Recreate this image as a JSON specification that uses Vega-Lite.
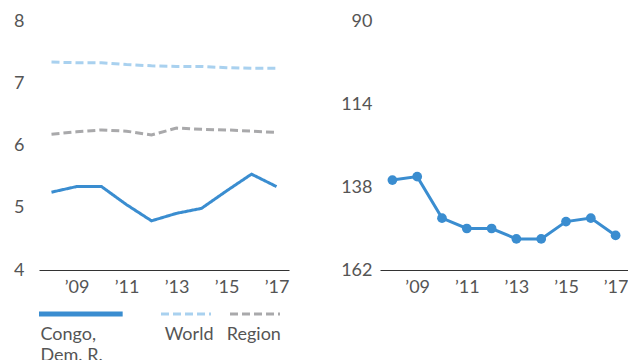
{
  "$schema": "https://vega.github.io/schema/vega-lite/v6.json",
  "padding": {"top": 12, "left": 0, "right": 0, "bottom": 0},
  "config": {
    "font": "Lato",
    "view": {"stroke": null},
    "axis": {"labelFont": "Lato", "labelFontSize": 18, "labelColor": "#555555", "labelFontWeight": 400, "grid": false, "ticks": false, "title": null},
    "text": {"font": "Lato", "fontSize": 18, "color": "#555555", "fontWeight": 400}
  },
  "datasets": {
    "main": [
      {"year": 2008, "series": "Congo, Dem. R.", "value": 5.25},
      {"year": 2009, "series": "Congo, Dem. R.", "value": 5.34},
      {"year": 2010, "series": "Congo, Dem. R.", "value": 5.34},
      {"year": 2011, "series": "Congo, Dem. R.", "value": 5.05},
      {"year": 2012, "series": "Congo, Dem. R.", "value": 4.79},
      {"year": 2013, "series": "Congo, Dem. R.", "value": 4.91},
      {"year": 2014, "series": "Congo, Dem. R.", "value": 4.99},
      {"year": 2015, "series": "Congo, Dem. R.", "value": 5.27},
      {"year": 2016, "series": "Congo, Dem. R.", "value": 5.54},
      {"year": 2017, "series": "Congo, Dem. R.", "value": 5.34},
      {"year": 2008, "series": "World", "value": 7.34},
      {"year": 2009, "series": "World", "value": 7.33},
      {"year": 2010, "series": "World", "value": 7.33},
      {"year": 2011, "series": "World", "value": 7.30},
      {"year": 2012, "series": "World", "value": 7.28},
      {"year": 2013, "series": "World", "value": 7.27},
      {"year": 2014, "series": "World", "value": 7.27},
      {"year": 2015, "series": "World", "value": 7.25},
      {"year": 2016, "series": "World", "value": 7.24},
      {"year": 2017, "series": "World", "value": 7.24},
      {"year": 2008, "series": "Region", "value": 6.18},
      {"year": 2009, "series": "Region", "value": 6.22},
      {"year": 2010, "series": "Region", "value": 6.25},
      {"year": 2011, "series": "Region", "value": 6.23},
      {"year": 2012, "series": "Region", "value": 6.17},
      {"year": 2013, "series": "Region", "value": 6.28},
      {"year": 2014, "series": "Region", "value": 6.26},
      {"year": 2015, "series": "Region", "value": 6.25},
      {"year": 2016, "series": "Region", "value": 6.23},
      {"year": 2017, "series": "Region", "value": 6.21}
    ],
    "rank": [
      {"year": 2008, "rank": 136},
      {"year": 2009, "rank": 135},
      {"year": 2010, "rank": 147},
      {"year": 2011, "rank": 150},
      {"year": 2012, "rank": 150},
      {"year": 2013, "rank": 153},
      {"year": 2014, "rank": 153},
      {"year": 2015, "rank": 148},
      {"year": 2016, "rank": 147},
      {"year": 2017, "rank": 152}
    ]
  },
  "hconcat": [
    {
      "vconcat": [
        {
          "width": 250,
          "height": 249,
          "data": {"name": "main"},
          "mark": {"type": "line", "strokeWidth": 3},
          "encoding": {
            "x": {
              "field": "year", "type": "ordinal",
              "scale": {"type": "point", "padding": 0.5},
              "axis": {"values": [2009, 2011, 2013, 2015, 2017], "labelExpr": "'’' + slice(datum.label, 2)", "labelAngle": 0, "domainColor": "#333333", "domainWidth": 1, "labelPadding": 8}
            },
            "y": {
              "field": "value", "type": "quantitative",
              "scale": {"domain": [4, 8], "nice": false, "zero": false},
              "axis": {"values": [4, 5, 6, 7, 8], "domain": false, "labelPadding": 15, "minExtent": 39, "maxExtent": 39}
            },
            "color": {
              "field": "series", "type": "nominal",
              "scale": {"domain": ["Region", "World", "Congo, Dem. R."], "range": ["#a9a9ab", "#a9d1ef", "#3a8dd0"]},
              "legend": null
            },
            "strokeDash": {
              "field": "series", "type": "nominal",
              "scale": {"domain": ["Region", "World", "Congo, Dem. R."], "range": [[8, 4], [8, 4], [1, 0]]},
              "legend": null
            }
          }
        },
        {
          "width": 250,
          "height": 24,
          "data": {"name": "main"},
          "transform": [
            {"filter": "datum.year == 2008"},
            {"calculate": "replace(datum.series, ', ', ',|')", "as": "label"}
          ],
          "layer": [
            {
              "transform": [{"filter": "datum.series == 'Congo, Dem. R.'"}],
              "layer": [
                {
                  "mark": {"type": "rule", "strokeWidth": 5},
                  "encoding": {
                    "x": {"field": "series", "type": "nominal", "bandPosition": 0, "scale": {"type": "band", "domain": ["Congo, Dem. R.", "World", "Region"], "paddingInner": 0, "paddingOuter": 0}, "axis": null},
                    "x2": {"field": "series", "bandPosition": 1.004},
                    "color": {"field": "series", "type": "nominal", "legend": null},
                    "strokeDash": {"field": "series", "type": "nominal", "legend": null}
                  }
                },
                {
                  "mark": {"type": "text", "align": "left", "baseline": "top", "dy": 12, "lineBreak": "|", "lineHeight": 21},
                  "encoding": {
                    "x": {"field": "series", "type": "nominal", "bandPosition": 0.018},
                    "text": {"field": "label"}
                  }
                }
              ]
            },
            {
              "transform": [{"filter": "datum.series == 'World'"}],
              "layer": [
                {
                  "mark": {"type": "rule", "strokeWidth": 3},
                  "encoding": {
                    "x": {"field": "series", "type": "nominal", "bandPosition": 0.464},
                    "x2": {"field": "series", "bandPosition": 1.064},
                    "color": {"field": "series", "type": "nominal", "legend": null},
                    "strokeDash": {"field": "series", "type": "nominal", "legend": null}
                  }
                },
                {
                  "mark": {"type": "text", "align": "left", "baseline": "top", "dy": 12},
                  "encoding": {
                    "x": {"field": "series", "type": "nominal", "bandPosition": 0.509},
                    "text": {"field": "label"}
                  }
                }
              ]
            },
            {
              "transform": [{"filter": "datum.series == 'Region'"}],
              "layer": [
                {
                  "mark": {"type": "rule", "strokeWidth": 3},
                  "encoding": {
                    "x": {"field": "series", "type": "nominal", "bandPosition": 0.292},
                    "x2": {"field": "series", "bandPosition": 0.892},
                    "color": {"field": "series", "type": "nominal", "legend": null},
                    "strokeDash": {"field": "series", "type": "nominal", "legend": null}
                  }
                },
                {
                  "mark": {"type": "text", "align": "left", "baseline": "top", "dy": 12},
                  "encoding": {
                    "x": {"field": "series", "type": "nominal", "bandPosition": 0.253},
                    "text": {"field": "label"}
                  }
                }
              ]
            }
          ]
        }
      ],
      "spacing": 6
    },
    {
      "width": 248,
      "height": 249,
      "data": {"name": "rank"},
      "encoding": {
        "x": {
          "field": "year", "type": "ordinal",
          "scale": {"type": "point", "padding": 0.5},
          "axis": {"values": [2009, 2011, 2013, 2015, 2017], "labelExpr": "'’' + slice(datum.label, 2)", "labelAngle": 0, "domainColor": "#333333", "domainWidth": 1, "labelPadding": 8}
        },
        "y": {
          "field": "rank", "type": "quantitative",
          "scale": {"domain": [90, 162], "reverse": true, "nice": false, "zero": false},
          "axis": {"values": [90, 114, 138, 162], "domain": false, "labelPadding": 8, "minExtent": 40, "maxExtent": 40}
        }
      },
      "layer": [
        {"mark": {"type": "line", "strokeWidth": 3, "color": "#3a8dd0"}},
        {"mark": {"type": "point", "filled": true, "size": 95, "opacity": 1, "color": "#3a8dd0"}}
      ]
    }
  ],
  "spacing": 51
}
